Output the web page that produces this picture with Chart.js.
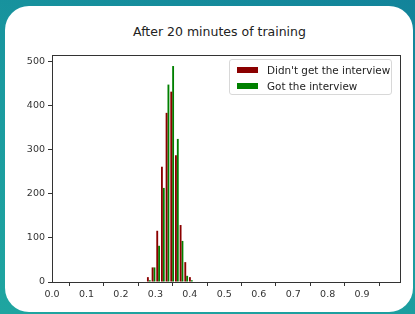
<!DOCTYPE html>
<html>
<head>
<meta charset="utf-8">
<script src="https://cdn.jsdelivr.net/npm/chart.js@4/dist/chart.umd.min.js"></script>
<style>
  html, body { margin: 0; padding: 0; }
  body {
    width: 415px; height: 314px; overflow: hidden; position: relative;
    background: linear-gradient(20deg, #1fa5a0 0%, #1a9a9f 50%, #12839a 100%);
    font-family: "DejaVu Sans", sans-serif;
  }
  #panel {
    position: absolute; left: 5px; top: 6px; width: 408px; height: 306px;
    background: #fff; border-radius: 24px;
  }
  #chartWrap { position: absolute; left: 0; top: 0; width: 415px; height: 314px; }
  #title {
    position: absolute; left: 0; width: 439px; top: 24px; text-align: center;
    font-size: 12.5px; color: #222;
  }
  #legend {
    position: absolute; left: 229px; top: 59px; width: 161px; height: 34px;
    border: 1px solid #d8d8d8; border-radius: 3px; background: rgba(255,255,255,0.8);
    font-size: 10.4px; color: #222;
  }
  .row { position: absolute; left: 0; height: 12px; line-height: 12px; white-space: nowrap; }
  .sw { position: absolute; left: 7px; top: 3px; width: 21px; height: 6px; }
  .lbl { position: absolute; left: 37px; top: 0; }
</style>
</head>
<body>
<div id="panel"></div>
<div id="title">After 20 minutes of training</div>
<div id="chartWrap"><canvas id="chart" width="415" height="314"></canvas></div>
<div id="legend"></div>
<script>
// Histogram data
const binCenters = [0.281, 0.2946, 0.3081, 0.3217, 0.3352, 0.3488, 0.3624, 0.3759, 0.3895, 0.4030];
const noInterview = [11, 33, 116, 261, 383, 431, 287, 129, 45, 11];
const gotInterview = [4, 33, 82, 213, 447, 489, 324, 93, 14, 4];
const seriesNames = ["Didn't get the interview", "Got the interview"];
const seriesColors = ['#8b0000', '#008000'];
const xTickValues = [0, 0.1, 0.2, 0.3, 0.4, 0.5, 0.6, 0.7, 0.8, 0.9];
const yTickValues = [0, 100, 200, 300, 400, 500];

const toPoints = vals => vals.map((v, i) => ({x: binCenters[i], y: v}));

// Legend box
const legendEl = document.getElementById('legend');
seriesNames.forEach((name, i) => {
    const row = document.createElement('div');
    row.className = 'row';
    row.style.top = (4 + i * 16) + 'px';
    row.innerHTML = '<span class="sw" style="background:' + seriesColors[i] + '"></span><span class="lbl"></span>';
    row.querySelector('.lbl').textContent = name;
    legendEl.appendChild(row);
});

// Frame around the plot area, like matplotlib spines
const framePlugin = {
    id: 'frame',
    afterDatasetsDraw(chart) {
        const a = chart.chartArea;
        const c = chart.ctx;
        c.save();
        c.strokeStyle = '#333';
        c.lineWidth = 1;
        c.strokeRect(Math.round(a.left) + 0.5, Math.round(a.top) + 0.5,
            Math.round(a.right - a.left), Math.round(a.bottom - a.top));
        c.restore();
    }
};

const tickFont = {family: 'DejaVu Sans', size: 9.5};

new Chart(document.getElementById('chart').getContext('2d'), {
    type: 'bar',
    data: {
        datasets: [
            {label: seriesNames[0], data: toPoints(noInterview), backgroundColor: seriesColors[0], borderWidth: 0},
            {label: seriesNames[1], data: toPoints(gotInterview), backgroundColor: seriesColors[1], borderWidth: 0}
        ]
    },
    options: {
        responsive: false,
        animation: false,
        categoryPercentage: 0.8,
        barPercentage: 1.0,
        layout: {padding: {top: 55, right: 15, left: 0, bottom: 0}},
        scales: {
            x: {
                type: 'linear',
                offset: false,
                min: 0,
                max: 1.01,
                afterBuildTicks: s => { s.ticks = xTickValues.map(v => ({value: v})); },
                afterFit: s => { s.height = 32; },
                grid: {drawOnChartArea: false, drawTicks: true, tickLength: 4, color: '#333'},
                border: {display: false},
                ticks: {color: '#333', font: tickFont, padding: 3, maxRotation: 0, autoSkip: false,
                    callback: v => v.toFixed(1)}
            },
            y: {
                min: 0,
                max: 514,
                afterBuildTicks: s => { s.ticks = yTickValues.map(v => ({value: v})); },
                afterFit: s => { s.width = 52; },
                grid: {drawOnChartArea: false, drawTicks: true, tickLength: 4, color: '#333'},
                border: {display: false},
                ticks: {color: '#333', font: tickFont, padding: 3, autoSkip: false}
            }
        },
        plugins: {
            legend: {display: false},
            title: {display: false},
            tooltip: {enabled: false}
        }
    },
    plugins: [framePlugin]
});
</script>
</body>
</html>
